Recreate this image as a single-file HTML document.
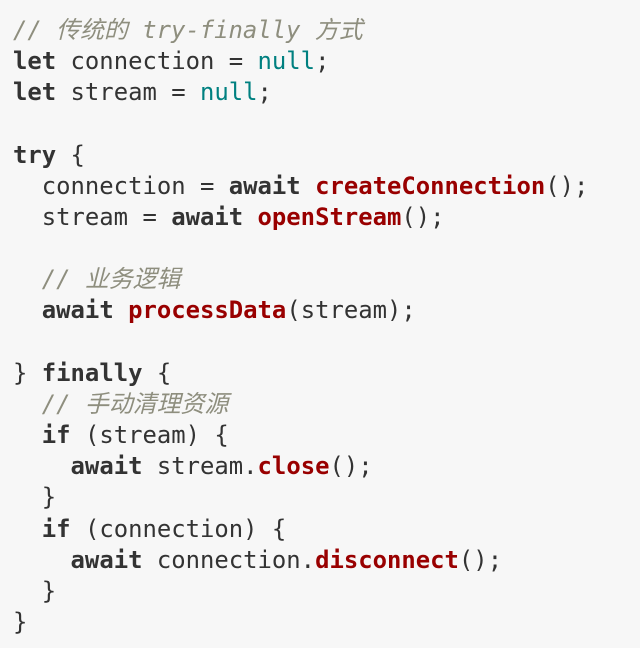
<!DOCTYPE html>
<html><head><meta charset="utf-8"><style>
html,body{margin:0;padding:0;background:#f7f7f7;}
body{width:640px;height:648px;overflow:hidden;}
pre{margin:0;padding:15px 0 0 13px;font-family:"DejaVu Sans Mono","Liberation Mono","Noto Sans CJK SC",monospace;font-size:23.9px;line-height:31.16px;color:#333;}
.c{color:#8e8e7e;font-style:italic;}
.k{font-weight:bold;color:#333;}
.n{color:#008080;}
.f{font-weight:bold;color:#990000;}
</style></head><body><pre><span class="c">// 传统的 try-finally 方式</span>
<span class="k">let</span> connection = <span class="n">null</span>;
<span class="k">let</span> stream = <span class="n">null</span>;

<span class="k">try</span> {
  connection = <span class="k">await</span> <span class="f">createConnection</span>();
  stream = <span class="k">await</span> <span class="f">openStream</span>();

  <span class="c">// 业务逻辑</span>
  <span class="k">await</span> <span class="f">processData</span>(stream);

} <span class="k">finally</span> {
  <span class="c">// 手动清理资源</span>
  <span class="k">if</span> (stream) {
    <span class="k">await</span> stream.<span class="f">close</span>();
  }
  <span class="k">if</span> (connection) {
    <span class="k">await</span> connection.<span class="f">disconnect</span>();
  }
}</pre></body></html>
